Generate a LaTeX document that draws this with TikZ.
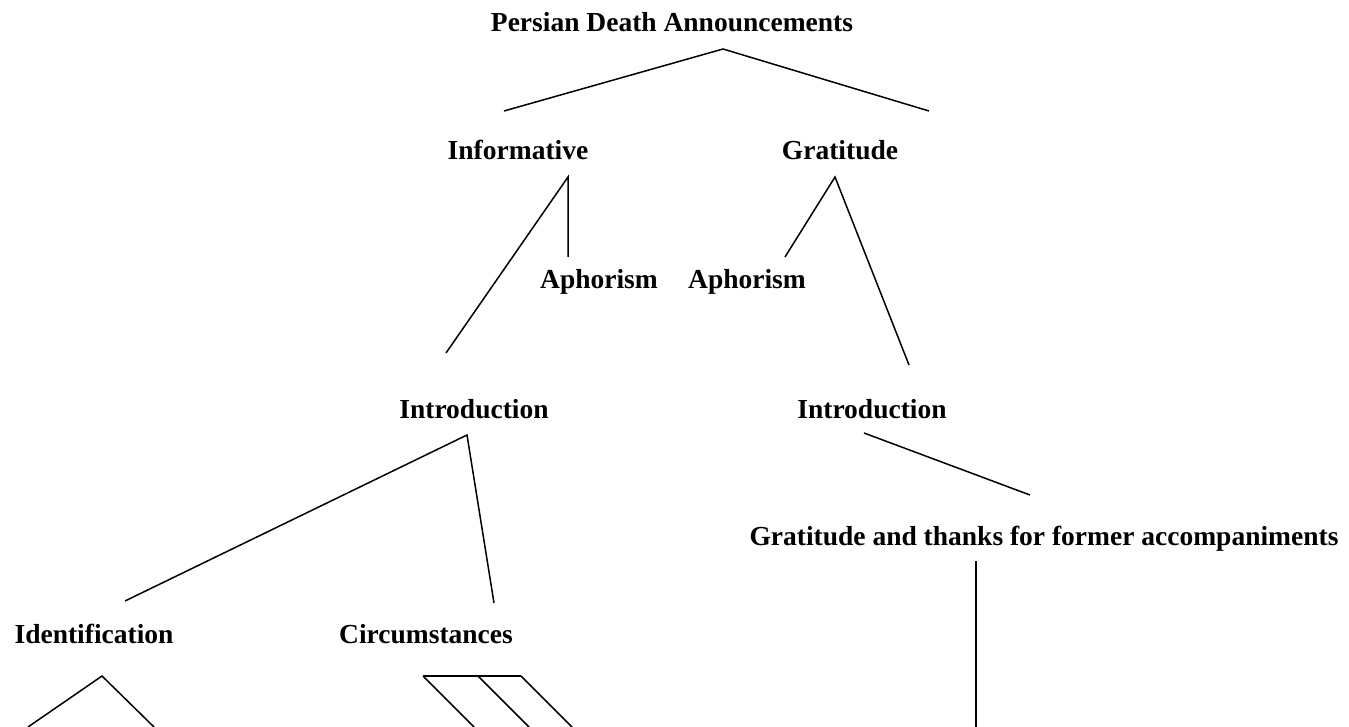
\documentclass[tikz,border=0pt]{standalone}
\usepackage{fontspec}
\setmainfont{Liberation Serif}
\usetikzlibrary{positioning}

\begin{document}
\begin{tikzpicture}[x=1pt,y=-1pt,
  lbl/.style={anchor=base,inner sep=0pt,font=\fontsize{27.5}{30}\selectfont\bfseries},
  branch/.style={line width=1.5pt}]
  \useasboundingbox (0,0) rectangle (1349,727);
  % labels
  \node[lbl] (title)  at (672,32)  {Persian Death Announcements};
  \node[lbl] (inform) at (518,160) {Informative};
  \node[lbl] (grat)   at (840,160) {Gratitude};
  \node[lbl] (aphL)   at (599,289) {Aphorism};
  \node[lbl] (aphR)   at (747,289) {Aphorism};
  \node[lbl] (introL) at (474,418) {Introduction};
  \node[lbl] (introR) at (872,418) {Introduction};
  \node[lbl] (thanks) at (1044,545) {Gratitude and thanks for former accompaniments};
  \node[lbl] (ident)  at (94,643)  {Identification};
  \node[lbl] (circ)   at (426,643) {Circumstances};
  % branch points
  \coordinate (titleTop) at (723,49);
  \coordinate (informUp) at (504,111);
  \coordinate (gratUp)   at (929,111);
  \coordinate (informTop) at (568,177);
  \coordinate (aphLUp)   at (568,257);
  \coordinate (introLUp) at (446,353);
  \coordinate (gratTop)  at (835,177);
  \coordinate (aphRUp)   at (785,257);
  \coordinate (introRUp) at (909,365);
  \coordinate (introLTop) at (467,435);
  \coordinate (identUp)  at (125,601);
  \coordinate (circUp)   at (494,603);
  \coordinate (introRTop) at (864,433);
  \coordinate (thanksUp) at (1030,495);
  \coordinate (thanksTop) at (976,561);
  \coordinate (thanksEnd) at (976,727);
  \coordinate (identTop) at (102,676);
  \coordinate (identA)   at (28,727);
  \coordinate (identB)   at (154,727);
  \coordinate (circA)    at (423,676);
  \coordinate (circB)    at (478,676);
  \coordinate (circC)    at (521,676);
  % branches
  \draw[branch] (informUp) -- (titleTop) -- (gratUp);
  \draw[branch] (introLUp) -- (informTop) -- (aphLUp);
  \draw[branch] (aphRUp) -- (gratTop) -- (introRUp);
  \draw[branch] (identUp) -- (introLTop) -- (circUp);
  \draw[branch] (introRTop) -- (thanksUp);
  \draw[branch] (thanksTop) -- (thanksEnd);
  \draw[branch] (identA) -- (identTop) -- (identB);
  \draw[branch] (circA) -- (circC);
  \foreach \p in {circA,circB,circC}
    \draw[branch] (\p) -- ++(51,51);
\end{tikzpicture}
\end{document}
